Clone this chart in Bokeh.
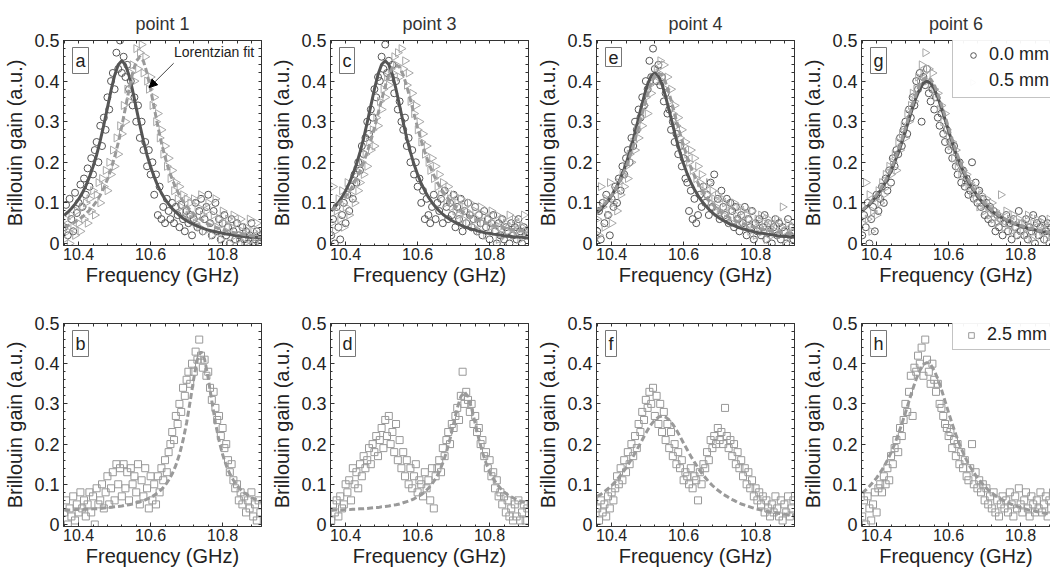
import numpy as np
from bokeh.plotting import figure
from bokeh.models import (Range1d, LinearAxis, SingleIntervalTicker, FixedTicker,
                          NumeralTickFormatter, Label, Arrow, NormalHead, Legend, LegendItem)
from bokeh.layouts import row, column
from bokeh.embed import file_html
from bokeh.resources import INLINE

FONT = "Liberation Sans"

# ---------------- data ----------------
freq = [10.360, 10.365, 10.370, 10.375, 10.380, 10.385, 10.390, 10.395, 10.400, 10.405,
        10.410, 10.415, 10.420, 10.425, 10.430, 10.435, 10.440, 10.445, 10.450, 10.455,
        10.460, 10.465, 10.470, 10.475, 10.480, 10.485, 10.490, 10.495, 10.500, 10.505,
        10.510, 10.515, 10.520, 10.525, 10.530, 10.535, 10.540, 10.545, 10.550, 10.555,
        10.560, 10.565, 10.570, 10.575, 10.580, 10.585, 10.590, 10.595, 10.600, 10.605,
        10.610, 10.615, 10.620, 10.625, 10.630, 10.635, 10.640, 10.645, 10.650, 10.655,
        10.660, 10.665, 10.670, 10.675, 10.680, 10.685, 10.690, 10.695, 10.700, 10.705,
        10.710, 10.715, 10.720, 10.725, 10.730, 10.735, 10.740, 10.745, 10.750, 10.755,
        10.760, 10.765, 10.770, 10.775, 10.780, 10.785, 10.790, 10.795, 10.800, 10.805,
        10.810, 10.815, 10.820, 10.825, 10.830, 10.835, 10.840, 10.845, 10.850, 10.855,
        10.860, 10.865, 10.870, 10.875, 10.880, 10.885, 10.890, 10.895, 10.900, 10.905]

fit_freq = [10.36, 10.37, 10.38, 10.39, 10.40, 10.41, 10.42, 10.43, 10.44, 10.45,
            10.46, 10.47, 10.48, 10.49, 10.50, 10.51, 10.52, 10.53, 10.54, 10.55,
            10.56, 10.57, 10.58, 10.59, 10.60, 10.61, 10.62, 10.63, 10.64, 10.65,
            10.66, 10.67, 10.68, 10.69, 10.70, 10.71, 10.72, 10.73, 10.74, 10.75,
            10.76, 10.77, 10.78, 10.79, 10.80, 10.81, 10.82, 10.83, 10.84, 10.85,
            10.86, 10.87, 10.88, 10.89, 10.90, 10.91]

titles = ["point 1", "point 3", "point 4", "point 6"]
top_letters = ["a", "c", "e", "g"]
bottom_letters = ["b", "d", "f", "h"]
legend_top = ["0.0 mm", "0.5 mm"]
legend_bottom = ["2.5 mm"]

# point 1
p1_00 = [.040, .095, .020, .110, .060, .030, .125, .075, .100, .145,
         .090, .160, .120, .185, .140, .210, .170, .230, .250, .200,
         .290, .240, .310, .280, .360, .330, .400, .420, .380, .470,
         .430, .500, .420, .460, .410, .440, .380, .400, .340, .360,
         .300, .340, .260, .300, .230, .250, .190, .230, .170, .200,
         .120, .170, .070, .140, .060, .090, .050, .110, .080, .060,
         .100, .050, .090, .070, .040, .095, .060, .030, .080, .050,
         .070, .020, .060, .100, .040, .080, .110, .030, .060, .090,
         .120, .050, .020, .080, .100, .030, .060, .010, .050, .070,
         .020, .040, .000, .060, .030, .010, .050, .020, .000, .040,
         .010, .030, .000, .020, .050, .000, .010, .030, .000, .020]
p1_05 = [.010, .060, .030, .000, .070, .040, .020, .080, .050, .030,
         .090, .060, .100, .050, .110, .080, .130, .070, .120, .150,
         .100, .160, .140, .180, .130, .200, .170, .230, .190, .260,
         .220, .290, .270, .340, .300, .380, .350, .420, .440, .400,
         .480, .430, .470, .490, .420, .460, .400, .380, .410, .340,
         .360, .300, .320, .260, .280, .220, .240, .190, .210, .160,
         .180, .130, .150, .110, .140, .090, .120, .080, .110, .070,
         .100, .060, .110, .050, .090, .040, .120, .070, .030, .080,
         .100, .050, .020, .070, .110, .040, .060, .010, .080, .050,
         .030, .060, .000, .040, .070, .020, .050, .010, .060, .030,
         .000, .040, .020, .060, .010, .030, .000, .050, .020, .010]
p1_25 = [.030, .060, .000, .040, .020, .070, .010, .050, .030, .080,
         .040, .060, .020, .050, .080, .030, .070, .000, .090, .050,
         .060, .100, .040, .080, .120, .050, .090, .130, .060, .150,
         .100, .140, .070, .150, .090, .130, .060, .140, .100, .120,
         .080, .150, .050, .110, .070, .140, .090, .040, .120, .060,
         .100, .050, .120, .080, .140, .110, .160, .130, .180, .200,
         .230, .210, .270, .250, .300, .280, .340, .320, .360, .380,
         .350, .400, .380, .430, .410, .460, .420, .390, .410, .370,
         .380, .340, .310, .330, .290, .260, .270, .220, .240, .190,
         .200, .160, .130, .150, .110, .090, .100, .060, .080, .050,
         .070, .030, .060, .040, .080, .020, .050, .010, .060, .030]

# point 3
p3_00 = [.020, .060, .000, .090, .040, .010, .070, .100, .050, .120,
         .080, .140, .110, .170, .150, .200, .180, .240, .220, .260,
         .300, .270, .330, .310, .380, .360, .410, .400, .460, .430,
         .490, .420, .450, .410, .440, .370, .400, .330, .350, .300,
         .280, .310, .240, .260, .200, .230, .170, .200, .140, .160,
         .100, .130, .060, .110, .070, .050, .090, .120, .060, .100,
         .080, .110, .050, .130, .090, .060, .100, .070, .120, .040,
         .090, .060, .110, .030, .080, .050, .100, .070, .040, .060,
         .090, .030, .070, .050, .020, .080, .040, .060, .010, .050,
         .070, .030, .000, .050, .020, .060, .010, .040, .030, .000,
         .050, .020, .040, .010, .060, .030, .000, .040, .020, .030]
p3_05 = [.050, .140, .030, .080, .110, .060, .130, .040, .090, .150,
         .070, .120, .160, .100, .180, .130, .150, .200, .170, .220,
         .190, .250, .230, .280, .240, .310, .290, .350, .330, .380,
         .360, .410, .390, .430, .420, .460, .440, .470, .410, .480,
         .430, .450, .390, .420, .350, .370, .320, .340, .280, .300,
         .250, .270, .220, .240, .200, .180, .210, .160, .190, .140,
         .170, .120, .150, .130, .100, .140, .110, .090, .120, .080,
         .100, .070, .110, .060, .090, .080, .050, .100, .070, .040,
         .080, .060, .030, .090, .050, .070, .020, .060, .040, .080,
         .050, .030, .070, .010, .040, .060, .020, .050, .030, .070,
         .040, .020, .060, .030, .050, .010, .040, .070, .030, .020]
p3_25 = [.010, .050, .030, .060, .020, .070, .040, .050, .100, .080,
         .110, .060, .140, .100, .130, .090, .150, .120, .170, .140,
         .160, .190, .150, .200, .180, .220, .170, .210, .240, .190,
         .260, .220, .270, .200, .230, .180, .250, .160, .210, .140,
         .180, .120, .160, .100, .140, .090, .120, .150, .080, .110,
         .100, .070, .130, .090, .110, .060, .140, .040, .120, .140,
         .160, .130, .190, .170, .210, .230, .200, .250, .240, .270,
         .290, .260, .320, .380, .300, .330, .310, .280, .300, .250,
         .270, .230, .240, .200, .210, .170, .180, .140, .160, .120,
         .130, .090, .110, .070, .080, .050, .070, .030, .060, .020,
         .040, .010, .050, .020, .060, .010, .030, .050, .010, .040]

# point 4
p4_00 = [.030, .080, .010, .100, .050, .120, .070, .020, .110, .090,
         .140, .100, .160, .130, .190, .170, .210, .230, .200, .260,
         .240, .300, .280, .330, .310, .360, .340, .400, .380, .450,
         .410, .480, .430, .400, .440, .390, .410, .350, .370, .320,
         .330, .280, .300, .250, .270, .220, .240, .190, .210, .160,
         .150, .080, .130, .060, .110, .050, .070, .120, .090, .140,
         .100, .120, .070, .150, .090, .170, .080, .110, .060, .130,
         .090, .070, .110, .050, .100, .080, .040, .090, .060, .030,
         .070, .050, .090, .020, .060, .040, .080, .010, .050, .030,
         .060, .020, .040, .070, .010, .050, .030, .000, .040, .060,
         .020, .050, .010, .040, .030, .000, .060, .020, .040, .010]
p4_05 = [.060, .020, .140, .090, .040, .110, .070, .150, .050, .100,
         .130, .080, .150, .120, .170, .140, .190, .160, .220, .200,
         .250, .230, .280, .260, .310, .290, .340, .360, .320, .390,
         .370, .410, .400, .430, .420, .450, .400, .440, .380, .410,
         .350, .380, .320, .340, .290, .310, .260, .280, .240, .250,
         .220, .200, .230, .180, .210, .160, .190, .150, .170, .130,
         .140, .120, .150, .100, .130, .110, .090, .120, .080, .110,
         .070, .100, .060, .090, .080, .050, .100, .070, .060, .090,
         .050, .080, .040, .070, .060, .030, .080, .050, .020, .060,
         .040, .070, .030, .050, .010, .060, .040, .020, .050, .030,
         .060, .020, .040, .090, .030, .010, .050, .020, .040, .030]
p4_25 = [.040, .010, .060, .030, .050, .020, .070, .040, .080, .060,
         .090, .120, .100, .140, .110, .160, .130, .180, .150, .200,
         .170, .220, .190, .250, .230, .280, .260, .310, .290, .330,
         .300, .340, .270, .320, .250, .300, .230, .280, .210, .250,
         .190, .230, .170, .200, .150, .180, .140, .160, .110, .130,
         .120, .100, .140, .090, .120, .110, .060, .130, .100, .150,
         .140, .180, .160, .210, .190, .220, .200, .240, .210, .230,
         .200, .290, .220, .190, .210, .170, .200, .150, .180, .140,
         .160, .120, .140, .100, .130, .090, .110, .070, .090, .060,
         .080, .050, .070, .030, .060, .040, .020, .050, .030, .070,
         .040, .020, .060, .010, .050, .030, .070, .020, .040, .060]

# point 6
p6_00 = [.020, .070, .040, .100, .000, .060, .090, .030, .120, .080,
         .110, .140, .100, .160, .130, .180, .150, .210, .190, .230,
         .220, .260, .240, .280, .300, .270, .330, .310, .360, .340,
         .400, .380, .420, .300, .410, .390, .430, .370, .350, .380,
         .330, .360, .310, .290, .320, .270, .250, .280, .230, .250,
         .210, .240, .190, .170, .200, .150, .180, .140, .160, .120,
         .130, .200, .110, .150, .100, .130, .090, .110, .070, .100,
         .060, .090, .050, .080, .030, .070, .040, .060, .020, .050,
         .070, .030, .050, .010, .060, .040, .020, .080, .030, .050,
         .020, .060, .010, .040, .030, .070, .000, .050, .020, .040,
         .060, .010, .030, .050, .000, .040, .020, .060, .010, .030]
p6_05 = [.050, .090, .150, .060, .120, .030, .080, .110, .070, .130,
         .100, .150, .120, .170, .140, .190, .170, .200, .220, .180,
         .250, .230, .270, .290, .260, .320, .300, .340, .370, .350,
         .380, .410, .400, .440, .420, .470, .400, .430, .390, .420,
         .380, .360, .370, .330, .340, .300, .320, .280, .260, .240,
         .250, .210, .230, .190, .200, .170, .180, .150, .170, .140,
         .150, .120, .140, .110, .130, .090, .120, .100, .080, .110,
         .090, .070, .100, .060, .080, .050, .070, .120, .060, .040,
         .080, .050, .060, .030, .070, .040, .020, .060, .050, .030,
         .050, .020, .070, .040, .010, .050, .030, .060, .020, .040,
         .030, .050, .010, .040, .060, .020, .030, .010, .050, .020]
p6_25 = [.020, .060, .000, .070, .040, .010, .050, .080, .030, .090,
         .100, .080, .120, .100, .140, .110, .170, .150, .190, .210,
         .180, .240, .220, .260, .300, .280, .330, .370, .270, .390,
         .380, .420, .400, .440, .370, .460, .410, .380, .350, .400,
         .360, .330, .350, .300, .290, .270, .250, .240, .220, .230,
         .190, .210, .170, .200, .150, .180, .140, .160, .120, .110,
         .140, .200, .100, .130, .090, .110, .080, .100, .060, .090,
         .050, .070, .040, .080, .030, .060, .020, .050, .070, .040,
         .060, .030, .080, .050, .020, .070, .040, .090, .050, .030,
         .060, .080, .040, .020, .070, .050, .030, .060, .040, .080,
         .030, .050, .070, .020, .060, .040, .080, .030, .050, .060]

# Lorentzian fits
fit_p1_00 = [.069, .077, .086, .097, .109, .124, .142, .164, .189, .218,
             .253, .292, .334, .377, .414, .440, .450, .440, .414, .377,
             .334, .292, .253, .218, .189, .164, .142, .124, .109, .097,
             .086, .077, .069, .062, .056, .051, .047, .043, .039, .036,
             .033, .031, .029, .027, .025, .023, .022, .021, .019, .018,
             .017, .016, .016, .015, .014, .013]
fit_p1_05 = [.040, .044, .048, .053, .059, .065, .073, .082, .092, .104,
             .119, .137, .158, .183, .213, .248, .289, .334, .379, .420,
             .449, .460, .449, .420, .379, .334, .289, .248, .213, .183,
             .158, .137, .119, .104, .092, .082, .073, .065, .059, .053,
             .048, .044, .040, .037, .034, .031, .029, .027, .025, .024,
             .022, .021, .019, .018, .017, .016]
fit_p1_25 = [.036, .036, .036, .037, .037, .037, .038, .038, .039, .039,
             .040, .041, .042, .043, .044, .045, .046, .048, .049, .051,
             .054, .056, .059, .063, .067, .073, .079, .087, .097, .110,
             .126, .147, .174, .209, .253, .307, .364, .411, .430, .411,
             .364, .307, .253, .209, .174, .147, .126, .110, .097, .087,
             .079, .073, .067, .063, .059, .056]
fit_p3_00 = [.080, .090, .101, .114, .130, .148, .170, .195, .225, .259,
             .298, .339, .380, .416, .441, .450, .441, .416, .380, .339,
             .298, .259, .225, .195, .170, .148, .130, .114, .101, .090,
             .080, .072, .065, .059, .054, .049, .045, .041, .038, .035,
             .033, .030, .028, .026, .025, .023, .022, .021, .019, .018,
             .017, .016, .016, .015, .014, .013]
fit_p3_05 = [.081, .088, .096, .105, .116, .128, .142, .159, .178, .200,
             .225, .253, .285, .319, .354, .387, .415, .434, .440, .434,
             .415, .387, .354, .319, .285, .253, .225, .200, .178, .159,
             .142, .128, .116, .105, .096, .088, .081, .075, .069, .065,
             .060, .056, .053, .050, .047, .045, .042, .040, .039, .037,
             .035, .034, .032, .031, .030, .029]
fit_p3_25 = [.035, .036, .036, .036, .037, .037, .038, .038, .039, .039,
             .040, .041, .042, .042, .044, .045, .046, .048, .049, .051,
             .054, .057, .060, .064, .069, .074, .081, .090, .101, .114,
             .131, .153, .180, .213, .251, .289, .318, .330, .318, .289,
             .251, .213, .180, .153, .131, .114, .101, .090, .081, .074,
             .069, .064, .060, .057, .054, .051]
fit_p4_00 = [.076, .084, .094, .105, .118, .133, .151, .172, .196, .224,
             .256, .291, .327, .362, .392, .413, .420, .413, .392, .362,
             .327, .291, .256, .224, .196, .172, .151, .133, .118, .105,
             .094, .084, .076, .068, .062, .057, .052, .047, .044, .040,
             .037, .035, .032, .030, .028, .026, .025, .023, .022, .021,
             .019, .018, .017, .017, .016, .015]
fit_p4_05 = [.080, .088, .097, .107, .119, .133, .149, .167, .188, .213,
             .240, .271, .303, .337, .369, .396, .414, .420, .414, .396,
             .369, .337, .303, .271, .240, .213, .188, .167, .149, .133,
             .119, .107, .097, .088, .080, .074, .068, .062, .058, .054,
             .050, .047, .044, .042, .039, .037, .035, .033, .031, .029,
             .028, .027, .026, .024, .023, .022]
fit_p4_25 = [.070, .075, .082, .089, .097, .106, .117, .128, .141, .155,
             .170, .186, .202, .219, .235, .249, .260, .267, .270, .267,
             .260, .249, .235, .219, .202, .186, .170, .155, .141, .128,
             .117, .106, .097, .089, .082, .075, .070, .064, .060, .055,
             .051, .048, .045, .042, .039, .037, .035, .033, .031, .030,
             .028, .027, .026, .024, .023, .022]
fit_p6_00 = [.080, .088, .096, .106, .117, .130, .144, .160, .179, .200,
             .223, .249, .277, .306, .334, .360, .381, .395, .400, .395,
             .381, .360, .334, .306, .277, .249, .223, .200, .179, .160,
             .144, .130, .117, .106, .096, .088, .080, .073, .067, .062,
             .057, .053, .049, .046, .043, .040, .037, .035, .033, .031,
             .029, .028, .026, .025, .024, .022]
fit_p6_05 = [.082, .090, .098, .109, .120, .133, .148, .164, .183, .205,
             .229, .255, .284, .314, .342, .369, .391, .405, .410, .405,
             .391, .369, .342, .314, .284, .255, .229, .205, .183, .164,
             .148, .133, .120, .109, .098, .090, .082, .075, .069, .064,
             .058, .054, .050, .047, .044, .041, .038, .036, .034, .032,
             .030, .029, .027, .026, .025, .023]
fit_p6_25 = [.078, .086, .095, .105, .116, .129, .143, .160, .179, .200,
             .224, .250, .278, .307, .336, .362, .383, .398, .403, .398,
             .383, .362, .336, .307, .278, .250, .224, .200, .179, .160,
             .143, .129, .116, .105, .095, .086, .078, .072, .066, .061,
             .056, .052, .048, .045, .042, .039, .037, .035, .033, .031,
             .029, .028, .026, .025, .024, .023]

top_series = [(p1_00, p1_05, fit_p1_00, fit_p1_05),
              (p3_00, p3_05, fit_p3_00, fit_p3_05),
              (p4_00, p4_05, fit_p4_00, fit_p4_05),
              (p6_00, p6_05, fit_p6_00, fit_p6_05)]
bottom_series = [(p1_25, fit_p1_25), (p3_25, fit_p3_25),
                 (p4_25, fit_p4_25), (p6_25, fit_p6_25)]

# ---------------- styling ----------------
DARK = "#555555"
LIGHT = "#a8a8a8"
SQ = "#999999"
TXT = "#222222"
X0 = 10.358
Y0, Y1 = -0.005, 0.5
PX_PER_GHZ = 360.0
FIG_W = [267, 266, 265, 252]
LEFT = 63
FRAME_H_TOP = 205

# tick marks on the top / right edges (no labels)
X_EDGE_TICKS = [round(10.36 + 0.04 * i, 2) for i in range(14)]
Y_EDGE_TICKS = [round(0.02 * i, 2) for i in range(26)]


def style_axis(ax):
    ax.major_tick_in = 4
    ax.major_tick_out = 0
    ax.minor_tick_in = 2
    ax.minor_tick_out = 0
    ax.axis_line_color = "#333333"
    ax.major_tick_line_color = "#333333"
    ax.minor_tick_line_color = "#333333"


def edge_axis(minor):
    ax = LinearAxis(ticker=FixedTicker(ticks=[], minor_ticks=minor))
    ax.minor_tick_in = 3
    ax.minor_tick_out = 0
    ax.major_tick_in = 0
    ax.major_tick_out = 0
    ax.major_label_standoff = 0
    ax.axis_line_color = "#333333"
    ax.minor_tick_line_color = "#333333"
    return ax


def make_fig(col, top_row):
    last = col == 3
    width = FIG_W[col]
    fw = width - LEFT if last else 198
    x_end = X0 + fw / PX_PER_GHZ
    if top_row:
        h, bt, bb = 290, 40, 45
    else:
        h, bt, bb = 279, 33, 42
    br = width - LEFT - fw
    p = figure(width=width, height=h,
               x_range=Range1d(X0, x_end), y_range=Range1d(Y0, Y1),
               toolbar_location=None, output_backend="svg",
               min_border_left=LEFT, min_border_right=br,
               min_border_top=bt, min_border_bottom=bb,
               title=titles[col] if top_row else None)
    p.background_fill_color = "white"
    p.border_fill_color = "white"
    p.xgrid.visible = False
    p.ygrid.visible = False
    p.outline_line_color = None if last else "#333333"

    p.xaxis.ticker = SingleIntervalTicker(interval=0.2, num_minor_ticks=5)
    p.yaxis.ticker = SingleIntervalTicker(interval=0.1, num_minor_ticks=5)
    p.yaxis.formatter = NumeralTickFormatter(format="0.[0]")
    for ax in p.xaxis + p.yaxis:
        style_axis(ax)
        ax.major_label_text_font = FONT
        ax.major_label_text_color = TXT
        ax.axis_label_text_font = FONT
        ax.axis_label_text_color = TXT
        ax.axis_label_text_font_style = "normal"
    p.xaxis.major_label_text_font_size = "16px"
    p.yaxis.major_label_text_font_size = "18px"
    p.xaxis.major_label_standoff = 2
    p.yaxis.major_label_standoff = 4
    p.xaxis.axis_label = "Frequency (GHz)"
    p.yaxis.axis_label = "Brillouin gain (a.u.)"
    p.xaxis.axis_label_text_font_size = "20px"
    p.yaxis.axis_label_text_font_size = "20px"
    p.xaxis.axis_label_standoff = 1
    p.yaxis.axis_label_standoff = 5

    p.add_layout(edge_axis(X_EDGE_TICKS), "above")
    if not last:
        p.add_layout(edge_axis(Y_EDGE_TICKS), "right")

    if top_row:
        p.title.align = "center"
        p.title.text_font = FONT
        p.title.text_font_size = "18px"
        p.title.text_font_style = "normal"
        p.title.text_color = "#333333"
        p.title.standoff = 13

    letter = top_letters[col] if top_row else bottom_letters[col]
    p.add_layout(Label(x=X0, y=Y1, x_offset=9, y_offset=-7, text=letter,
                       text_font=FONT, text_font_size="18px", text_color=TXT,
                       text_align="left", text_baseline="top",
                       border_line_color="#777777", border_line_width=1,
                       background_fill_color="white", padding=3))
    return p


figs_top = []
for c, (s0, s5, f0, f5) in enumerate(top_series):
    p = make_fig(c, True)
    rc = p.scatter(freq, s0, marker="circle", size=7, fill_color=None,
                   line_color=DARK, line_width=1)
    rt = p.scatter(freq, s5, marker="triangle", angle=-np.pi / 2, size=8,
                   fill_color=None, line_color=LIGHT, line_width=1)
    p.line(fit_freq, f0, line_color=DARK, line_width=3)
    p.line(fit_freq, f5, line_color="#9a9a9a", line_width=3, line_dash="6 3")
    if c == 0:
        p.add_layout(Arrow(end=NormalHead(size=8, fill_color="black", line_color="black"),
                           x_start=10.664, y_start=0.444, x_end=10.596, y_end=0.384,
                           line_color="#444444", line_width=1))
        p.add_layout(Label(x=10.665, y=0.472, text="Lorentzian fit", text_font=FONT,
                           text_font_size="14px", text_color=TXT,
                           text_align="left", text_baseline="middle"))
    if c == 3:
        # invisible stand-in so the legend reserves the row; the right-pointing
        # key marker is drawn on top of the legend box
        ghost = p.scatter([], [], marker="triangle", size=6, fill_color=None,
                          line_color=LIGHT, line_alpha=0)
        leg_x, leg_pad, glyph_w, lab_h, spc = 91, 6, 28, 20, 5
        leg = Legend(items=[LegendItem(label=legend_top[0], renderers=[rc]),
                            LegendItem(label=legend_top[1], renderers=[ghost])],
                     location=(leg_x, 147), padding=leg_pad, spacing=spc, margin=0,
                     glyph_width=glyph_w, glyph_height=14, label_height=lab_h,
                     label_standoff=2, label_text_font=FONT,
                     label_text_font_size="18px", label_text_color=TXT,
                     border_line_color="#888888", background_fill_color="white")
        p.add_layout(leg)
        key_sx = leg_x + leg_pad + glyph_w / 2
        key_sy = (FRAME_H_TOP - 147 - (2 * leg_pad + 2 * lab_h + spc)) + leg_pad + lab_h + spc + lab_h / 2
        key_x = X0 + key_sx / PX_PER_GHZ
        key_y = Y1 - key_sy * (Y1 - Y0) / FRAME_H_TOP
        p.scatter([key_x], [key_y], marker="triangle", angle=-np.pi / 2, size=6,
                  fill_color=None, line_color=LIGHT, line_width=1, level="overlay")
    figs_top.append(p)

figs_bot = []
for c, (s, f) in enumerate(bottom_series):
    p = make_fig(c, False)
    rs = p.scatter(freq, s, marker="square", size=7, fill_color=None,
                   line_color=SQ, line_width=1)
    p.line(fit_freq, f, line_color="#9a9a9a", line_width=3, line_dash="6 3")
    if c == 3:
        leg = Legend(items=[LegendItem(label=legend_bottom[0], renderers=[rs])],
                     location=(91, 176), padding=4, spacing=5, margin=0,
                     glyph_width=28, glyph_height=14, label_height=20,
                     label_standoff=2, label_text_font=FONT,
                     label_text_font_size="18px", label_text_color=TXT,
                     border_line_color="#888888", background_fill_color="white")
        p.add_layout(leg)
    figs_bot.append(p)

layout = column(row(*figs_top, spacing=0), row(*figs_bot, spacing=0), spacing=0)
open("out.html", "w").write(file_html(layout, INLINE))
